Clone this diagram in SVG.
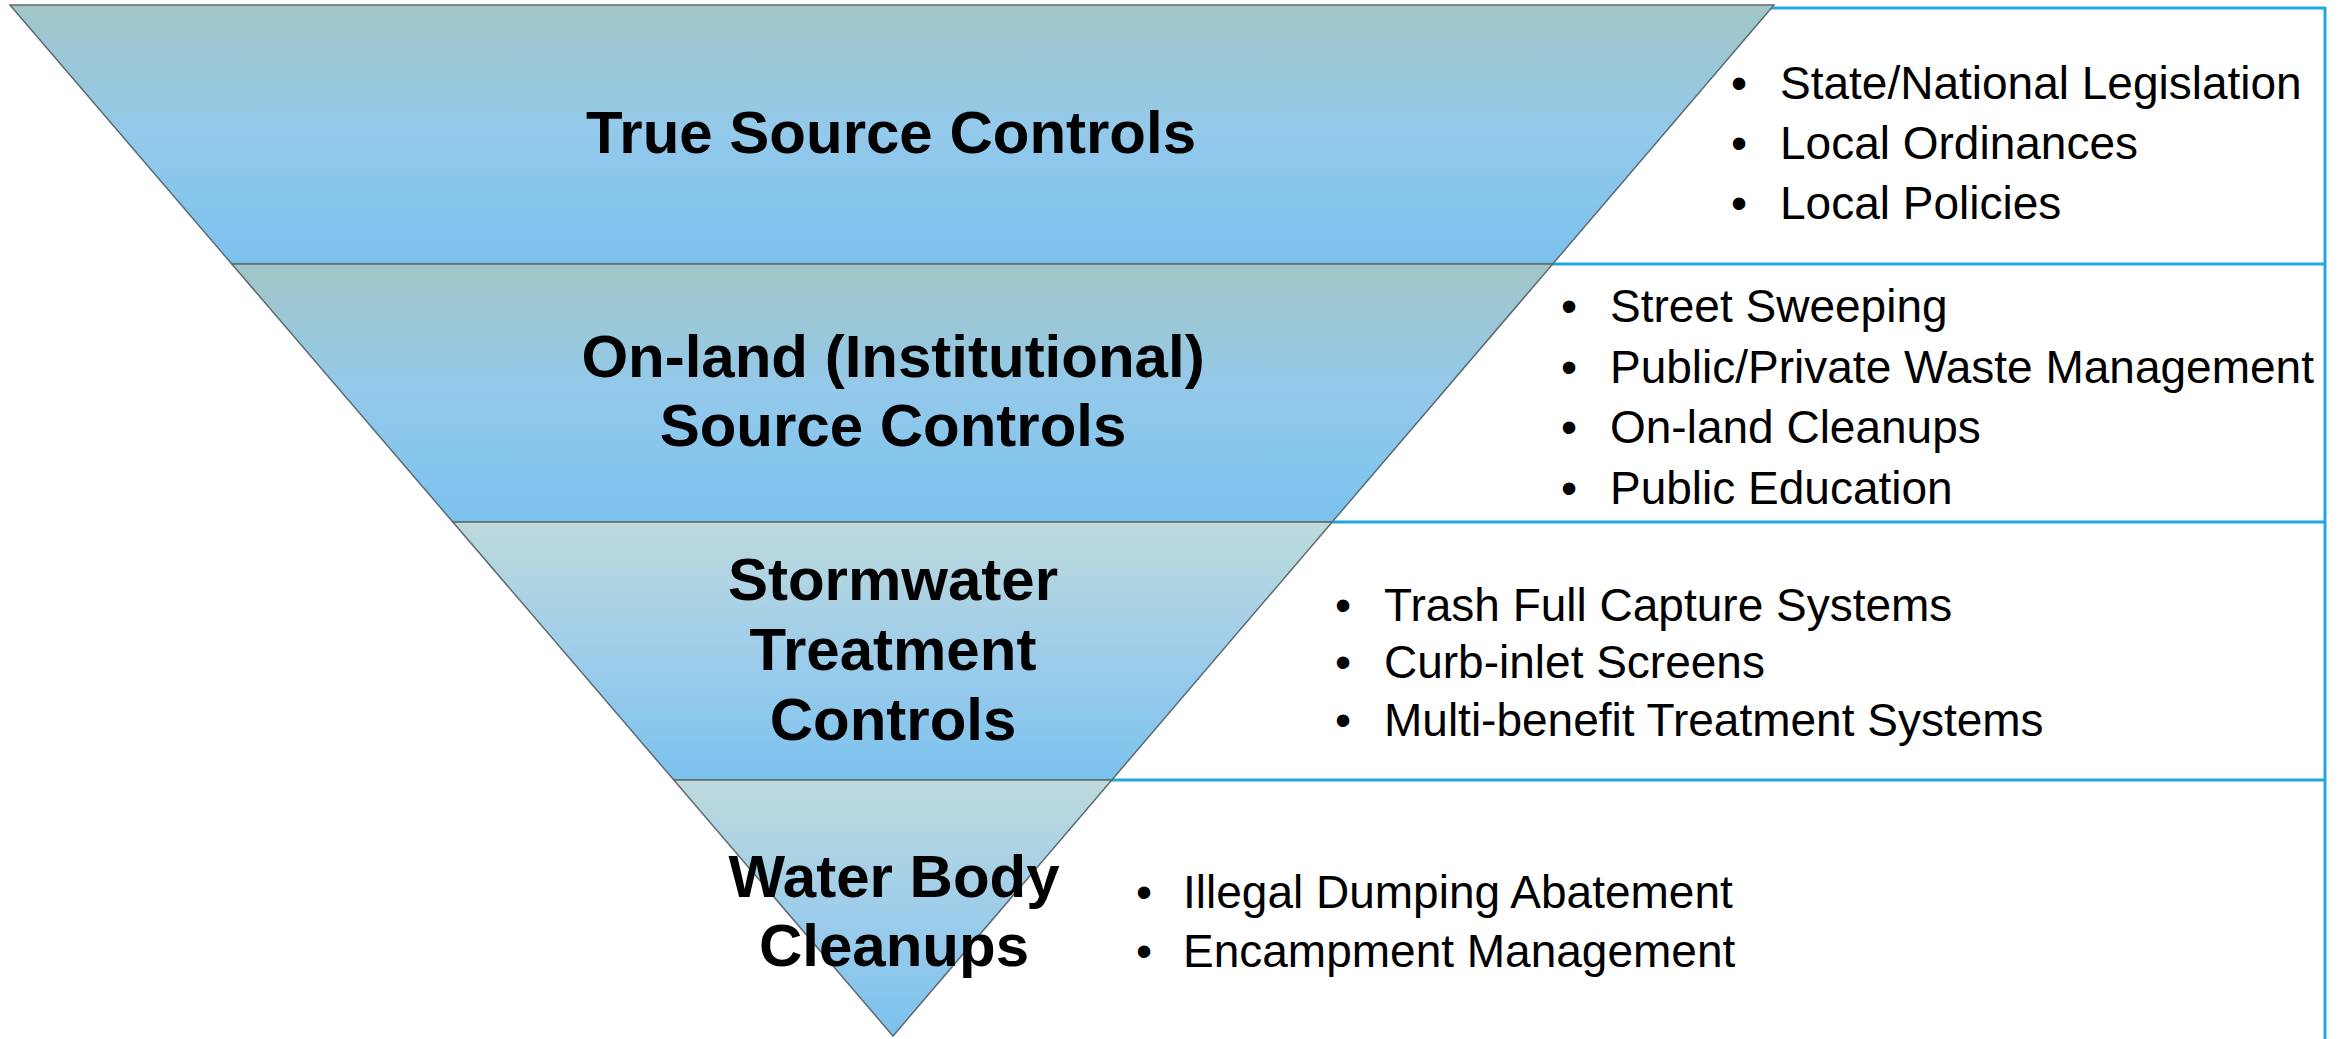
<svg xmlns="http://www.w3.org/2000/svg" width="2346" height="1039" viewBox="0 0 2346 1039">
<defs>
<linearGradient id="gTeal" x1="0" y1="0" x2="0" y2="1">
<stop offset="0" stop-color="#a1c6c7"/>
<stop offset="0.5" stop-color="#93c9eb"/>
<stop offset="1" stop-color="#7bc2ee"/>
</linearGradient>
<linearGradient id="gLight" x1="0" y1="0" x2="0" y2="1">
<stop offset="0" stop-color="#bddadc"/>
<stop offset="0.5" stop-color="#9fcdea"/>
<stop offset="1" stop-color="#7bc2ee"/>
</linearGradient>
<style>
.band{stroke:#5d6b70;stroke-width:1.5;stroke-linejoin:miter}
.box{fill:none;stroke:#22a6df;stroke-width:3}
.title{font-family:"Liberation Sans",Arial,sans-serif;font-weight:bold;font-size:60px;fill:#000;text-anchor:middle}
.item{font-family:"Liberation Sans",Arial,sans-serif;font-size:46px;fill:#000}
</style>
</defs>
<rect width="2346" height="1039" fill="#fff"/>
<g id="connectors">
<line class="box" x1="1771" y1="8" x2="2325" y2="8"/>
<line class="box" x1="1552" y1="264" x2="2325" y2="264"/>
<line class="box" x1="1332" y1="522" x2="2325" y2="522"/>
<line class="box" x1="1111" y1="780" x2="2325" y2="780"/>
<line class="box" x1="2325" y1="7" x2="2325" y2="1039"/>
</g>
<g id="node-true-source">
<polygon class="band" fill="url(#gTeal)" points="10,5 1774,5 1552.7,264 231.8,264"/>
<text class="title" x="891" y="153">True Source Controls</text>
<text class="item" x="1731" y="99">•</text>
<text class="item" x="1780" y="99">State/National Legislation</text>
<text class="item" x="1731" y="159">•</text>
<text class="item" x="1780" y="159">Local Ordinances</text>
<text class="item" x="1731" y="219">•</text>
<text class="item" x="1780" y="219">Local Policies</text>
</g>
<g id="node-onland">
<polygon class="band" fill="url(#gTeal)" points="231.8,264 1552.7,264 1332.2,522 452.8,522"/>
<text class="title" x="893" y="377">On-land (Institutional)</text>
<text class="title" x="893" y="446">Source Controls</text>
<text class="item" x="1561" y="322">•</text>
<text class="item" x="1610" y="322">Street Sweeping</text>
<text class="item" x="1561" y="383">•</text>
<text class="item" x="1610" y="383">Public/Private Waste Management</text>
<text class="item" x="1561" y="443">•</text>
<text class="item" x="1610" y="443">On-land Cleanups</text>
<text class="item" x="1561" y="504">•</text>
<text class="item" x="1610" y="504">Public Education</text>
</g>
<g id="node-stormwater">
<polygon class="band" fill="url(#gLight)" points="452.8,522 1332.2,522 1111.8,780 673.8,780"/>
<text class="title" x="893" y="600">Stormwater</text>
<text class="title" x="893" y="670">Treatment</text>
<text class="title" x="893" y="740">Controls</text>
<text class="item" x="1335" y="621">•</text>
<text class="item" x="1384" y="621">Trash Full Capture Systems</text>
<text class="item" x="1335" y="678">•</text>
<text class="item" x="1384" y="678">Curb-inlet Screens</text>
<text class="item" x="1335" y="736">•</text>
<text class="item" x="1384" y="736">Multi-benefit Treatment Systems</text>
</g>
<g id="node-waterbody">
<polygon class="band" fill="url(#gLight)" points="673.8,780 1111.8,780 893,1036"/>
<text class="title" x="894" y="897">Water Body</text>
<text class="title" x="894" y="966">Cleanups</text>
<text class="item" x="1136" y="908">•</text>
<text class="item" x="1183" y="908">Illegal Dumping Abatement</text>
<text class="item" x="1136" y="967">•</text>
<text class="item" x="1183" y="967">Encampment Management</text>
</g>
</svg>
